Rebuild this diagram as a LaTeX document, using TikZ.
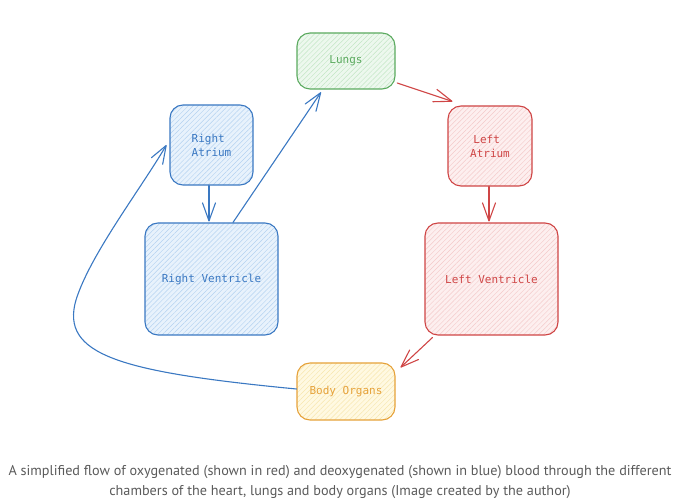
\documentclass[tikz,border=0pt]{standalone}
\usepackage{fontspec}
\setmainfont{PT Sans}
\newfontfamily\boxfont{DejaVu Sans Mono}
\usetikzlibrary{arrows.meta,patterns.meta}
\definecolor{bstroke}{HTML}{3A78C2}
\definecolor{bfill}{HTML}{E8F2FC}
\definecolor{bhatch}{HTML}{B4D2F0}
\definecolor{gstroke}{HTML}{5BAA5F}
\definecolor{gfill}{HTML}{EDF8EE}
\definecolor{ghatch}{HTML}{C2E6C4}
\definecolor{rstroke}{HTML}{CF4545}
\definecolor{rfill}{HTML}{FDEFEF}
\definecolor{rhatch}{HTML}{F4CACA}
\definecolor{ystroke}{HTML}{E6A23A}
\definecolor{yfill}{HTML}{FFF9E2}
\definecolor{yhatch}{HTML}{F7E6AD}
\definecolor{captiongray}{HTML}{5A5A5A}
\tikzset{
  chamber/.style n args={3}{draw=#1, text=#1, line width=1.1pt, rounded corners=13pt,
    inner sep=0pt, font=\boxfont\fontsize{11}{14}\selectfont, align=center,
    preaction={fill=#2},
    pattern={Lines[angle=45,distance=3.5pt,line width=0.45pt]}, pattern color=#3},
  flow/.style={draw=#1, line width=1.1pt, line cap=round,
    -{Straight Barb[length=18pt,width=13pt,line width=1.1pt,round]}},
  caption/.style={text=captiongray, font=\fontsize{14.2}{20}\selectfont, align=center, inner sep=0pt}
}
\begin{document}
\begin{tikzpicture}[x=1pt,y=-1pt]
\useasboundingbox (0,0) rectangle (680,502);
\node[chamber={gstroke}{gfill}{ghatch}, minimum width=98pt, minimum height=56pt] (lungs) at (346,61) {Lungs};
\node[chamber={bstroke}{bfill}{bhatch}, minimum width=83pt, minimum height=80pt] (ra) at (211.5,145) {Right\hphantom{x}\\Atrium};
\node[chamber={bstroke}{bfill}{bhatch}, minimum width=133pt, minimum height=112pt] (rv) at (211.5,279) {Right Ventricle};
\node[chamber={rstroke}{rfill}{rhatch}, minimum width=84pt, minimum height=80pt] (la) at (490,146) {Left\hphantom{x}\\Atrium};
\node[chamber={rstroke}{rfill}{rhatch}, minimum width=133pt, minimum height=112pt] (lv) at (491.5,279) {Left Ventricle};
\node[chamber={ystroke}{yfill}{yhatch}, minimum width=98pt, minimum height=57pt] (body) at (346,391.5) {Body Organs};
\draw[flow=bstroke] ([xshift=-2.5pt]ra.south) -- ([xshift=-2.5pt,yshift=1pt]rv.north);
\draw[flow=bstroke] ([xshift=21.5pt]rv.north) -- ([xshift=-25pt,yshift=-3pt]lungs.south);
\draw[flow=rstroke] ([xshift=2pt,yshift=-22pt]lungs.east) -- ([xshift=5pt,yshift=4pt]la.north west);
\draw[flow=rstroke] ([xshift=-1pt]la.south) -- ([xshift=-2.5pt,yshift=1pt]lv.north);
\draw[flow=rstroke] ([xshift=8pt,yshift=-2pt]lv.south west) -- ([xshift=5pt,yshift=-5pt]body.north east);
\draw[flow=bstroke] ([yshift=2.5pt]body.west) .. controls (120,372) and (60,355) .. (76,300)
  .. controls (90,255) and (140,190) .. ([xshift=-3pt]ra.west);
\node[caption] (cap) at (340,482) {A simplified flow of oxygenated (shown in red) and deoxygenated (shown in blue) blood through the different\\chambers of the heart, lungs and body organs (Image created by the author)};
\end{tikzpicture}
\end{document}
